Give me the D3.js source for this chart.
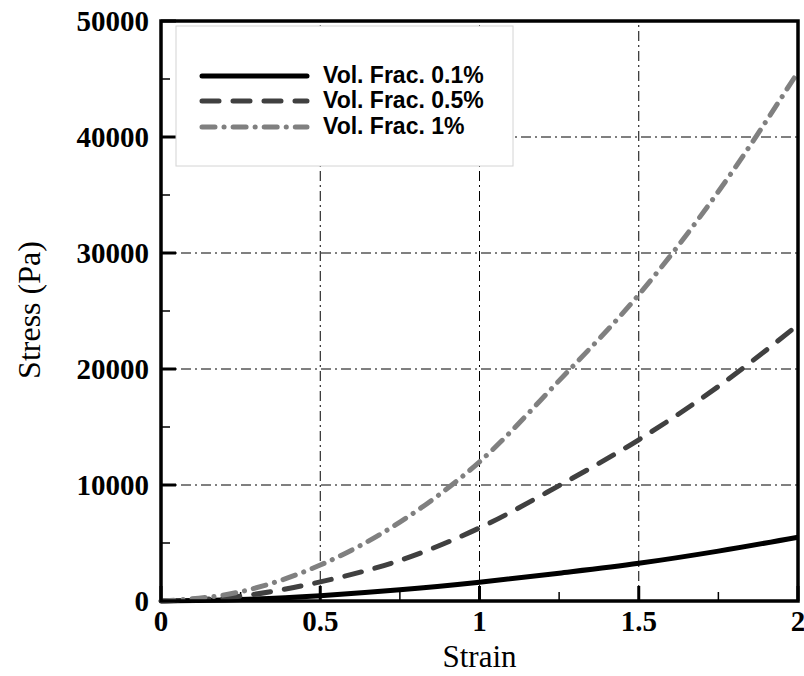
<!DOCTYPE html>
<html><head><meta charset="utf-8">
<script src="https://cdn.jsdelivr.net/npm/d3@7"></script>
<style>body{margin:0;background:#fff}</style>
</head><body>
<svg id="c" width="804" height="676"></svg>
<script>
const strain = [0, 0.25, 0.5, 0.75, 1, 1.25, 1.5, 1.75, 2];
const vf01 = [0, 120, 460, 960, 1620, 2400, 3250, 4300, 5500];
const vf05 = [0, 420, 1650, 3500, 6300, 9950, 13900, 18500, 23800];
const vf1  = [0, 800, 3100, 6800, 12000, 19000, 26400, 35300, 45600];
const seriesNames = ["Vol. Frac. 0.1%", "Vol. Frac. 0.5%", "Vol. Frac. 1%"];
const xTicks = [0, 0.5, 1, 1.5, 2];
const xTickLabels = ["0", "0.5", "1", "1.5", "2"];
const yTicks = [0, 10000, 20000, 30000, 40000, 50000];

const svg = d3.select("#c");
const L = 161, R = 798, T = 21, B = 601;
const x = d3.scaleLinear().domain([0, 2]).range([L, R]);
const y = d3.scaleLinear().domain([0, 50000]).range([B, T]);

const styles = [
  {color: "#000000", dash: null},
  {color: "#404040", dash: "17,14"},
  {color: "#808080", dash: "13,9,0.1,9"}
];
const seriesVals = [vf01, vf05, vf1];

// grid
const grid = svg.append("g");
[0.5, 1, 1.5].forEach(v => grid.append("line")
  .attr("x1", x(v)).attr("x2", x(v)).attr("y1", B).attr("y2", T)
  .attr("stroke", "#000").attr("stroke-width", 1).attr("stroke-dasharray", "10,4,2,4"));
[10000, 20000, 30000, 40000].forEach(v => grid.append("line")
  .attr("x1", L).attr("x2", R).attr("y1", y(v)).attr("y2", y(v))
  .attr("stroke", "#000").attr("stroke-width", 1).attr("stroke-dasharray", "10,4,2,4"));

// ticks (inside)
const xMinor = d3.range(0.25, 2, 0.5);
const yMinor = d3.range(5000, 50000, 10000);
const tk = svg.append("g");
xTicks.forEach(v => tk.append("line").attr("x1", x(v)).attr("x2", x(v)).attr("y1", B).attr("y2", B - 15).attr("stroke", "#000").attr("stroke-width", 3));
xMinor.forEach(v => tk.append("line").attr("x1", x(v)).attr("x2", x(v)).attr("y1", B).attr("y2", B - 9).attr("stroke", "#000").attr("stroke-width", 1.5));
yTicks.forEach(v => tk.append("line").attr("x1", L).attr("x2", L + 15).attr("y1", y(v)).attr("y2", y(v)).attr("stroke", "#000").attr("stroke-width", 3));
yMinor.forEach(v => tk.append("line").attr("x1", L).attr("x2", L + 9).attr("y1", y(v)).attr("y2", y(v)).attr("stroke", "#000").attr("stroke-width", 1.5));

// curves
const line = d3.line().x((d, i) => x(strain[i])).y(d => y(d)).curve(d3.curveMonotoneX);
seriesVals.forEach((vals, k) => {
  svg.append("path").attr("d", line(vals)).attr("fill", "none")
    .attr("stroke", styles[k].color).attr("stroke-width", 5)
    .attr("stroke-linecap", styles[k].dash ? "round" : "butt")
    .attr("stroke-dasharray", styles[k].dash);
});

// frame
svg.append("rect").attr("x", L).attr("y", T).attr("width", R - L).attr("height", B - T)
  .attr("fill", "none").attr("stroke", "#000").attr("stroke-width", 3.5);

// tick labels
const tf = "'Liberation Serif', 'Times New Roman', serif";
xTicks.forEach((v, i) => svg.append("text").attr("x", x(v)).attr("y", 631)
  .attr("text-anchor", "middle").attr("font-family", tf).attr("font-weight", "bold")
  .attr("font-size", 29).text(xTickLabels[i]));
yTicks.forEach(v => svg.append("text").attr("x", 149).attr("y", y(v) + 10)
  .attr("text-anchor", "end").attr("font-family", tf).attr("font-weight", "bold")
  .attr("font-size", 29).text(d3.format("d")(v)));

// axis titles
svg.append("text").attr("x", x(1)).attr("y", 667).attr("text-anchor", "middle")
  .attr("font-family", tf).attr("font-size", 31).text("Strain");
svg.append("text").attr("transform", "translate(40,310) rotate(-90)").attr("text-anchor", "middle")
  .attr("font-family", tf).attr("font-size", 32).text("Stress (Pa)");

// legend
const lg = svg.append("g");
lg.append("rect").attr("x", 176).attr("y", 26).attr("width", 337).attr("height", 140)
  .attr("fill", "#fff").attr("stroke", "#d4d4d4").attr("stroke-width", 1);
const rowsY = [76, 101, 127];
seriesNames.forEach((n, k) => {
  lg.append("line").attr("x1", 202).attr("x2", 307).attr("y1", rowsY[k]).attr("y2", rowsY[k])
    .attr("stroke", styles[k].color).attr("stroke-width", 5)
    .attr("stroke-linecap", "round").attr("stroke-dasharray", styles[k].dash);
  lg.append("text").attr("x", 323).attr("y", rowsY[k] + 7)
    .attr("font-family", "'Liberation Sans', Arial, sans-serif").attr("font-weight", "bold")
    .attr("font-size", 23).text(n);
});
</script>
</body></html>
